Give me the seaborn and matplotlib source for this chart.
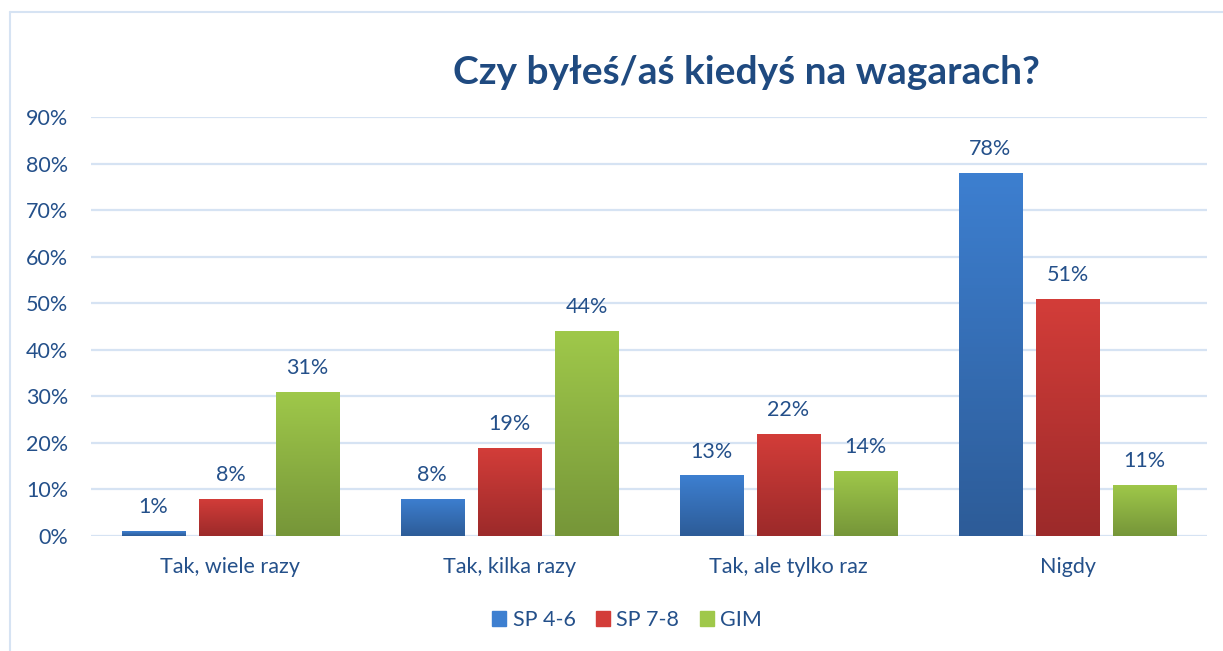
import numpy as np
import pandas as pd
import matplotlib
matplotlib.use("Agg")
import matplotlib.pyplot as plt
import seaborn as sns
from matplotlib.colors import LinearSegmentedColormap

categories = ["Tak, wiele razy", "Tak, kilka razy", "Tak, ale tylko raz", "Nigdy"]
groups = ["SP 4-6", "SP 7-8", "GIM"]
sp46 = [1, 8, 13, 78]
sp78 = [8, 19, 22, 51]
gim = [31, 44, 14, 11]
yticks = [0, 10, 20, 30, 40, 50, 60, 70, 80, 90]
title = "Czy byłeś/aś kiedyś na wagarach?"

# top / bottom colours for the gradient fill of each series
grad = {
    "SP 4-6": ("#3D7FD0", "#2D5C98"),
    "SP 7-8": ("#D33D39", "#9C2A2A"),
    "GIM": ("#9FC84A", "#769639"),
}
text_col = "#24508A"
grid_col = "#D6E3F3"
fs = 15.5

df = pd.DataFrame({
    "cat": categories * 3,
    "grp": [g for g in groups for _ in categories],
    "val": sp46 + sp78 + gim,
})

sns.set_theme(style="white")
plt.rcParams["font.family"] = ["Lato", "DejaVu Sans"]

fig = plt.figure(figsize=(12.23, 6.51), dpi=100)
ax = fig.add_axes([91 / 1223, 1 - 536 / 651, 1116 / 1223, 419 / 651])

palette = {g: grad[g][0] for g in groups}
sns.barplot(data=df, x="cat", y="val", hue="grp", palette=palette,
            width=0.83, gap=0.18, ax=ax, legend=False, saturation=1)

# gradient fill + labels
for container, g in zip(ax.containers, groups):
    cmap = LinearSegmentedColormap.from_list(g, [grad[g][1], grad[g][0]])
    for bar, v in zip(container, df[df.grp == g]["val"]):
        x0, y0 = bar.get_x(), bar.get_y()
        w, h = bar.get_width(), bar.get_height()
        bar.set_facecolor("none")
        bar.set_edgecolor("none")
        img = ax.imshow(np.linspace(0, 1, 100).reshape(-1, 1), cmap=cmap,
                        extent=[x0, x0 + w, y0, y0 + h], origin="lower",
                        aspect="auto", zorder=3)
        img.set_clip_path(bar)
        ax.text(x0 + w / 2, h + 3.0, f"{v}%", ha="center", va="bottom",
                color=text_col, fontsize=fs)

ax.set_xlim(-0.5, 3.5)
ax.set_ylim(0, 90)
ax.set_yticks(yticks)
ax.set_yticklabels([f"{t}%" for t in yticks], color=text_col, fontsize=fs)
ax.tick_params(axis="x", labelcolor=text_col, labelsize=fs, pad=9)
ax.tick_params(axis="y", pad=16.5, length=0)
ax.set_xlabel("")
ax.set_ylabel("")
ax.grid(axis="y", color=grid_col, linewidth=1.6)
ax.set_axisbelow(True)
for s in ax.spines.values():
    s.set_visible(False)

fig.text(746 / 1223, 1 - 72 / 651, title, ha="center", va="center",
         fontsize=28, fontweight="bold", color="#1F4A80")

# legend
handles = [plt.Rectangle((0, 0), 1, 1, color=grad[g][0]) for g in groups]
fig.legend(handles, groups, loc="center", bbox_to_anchor=(627 / 1223, 1 - 620 / 651),
           ncol=3, frameon=False, fontsize=fs, labelcolor=text_col,
           handlelength=0.65, handleheight=0.65, handletextpad=0.3, columnspacing=0.95)

# chart frame (top and left edges visible)
fig.add_artist(plt.Line2D([9.5 / 1223, 9.5 / 1223], [0, 1 - 12 / 651],
                          color=grid_col, linewidth=1.5, transform=fig.transFigure))
fig.add_artist(plt.Line2D([9.5 / 1223, 1], [1 - 12 / 651, 1 - 12 / 651],
                          color=grid_col, linewidth=1.5, transform=fig.transFigure))

fig.savefig("out.png", dpi=100)
